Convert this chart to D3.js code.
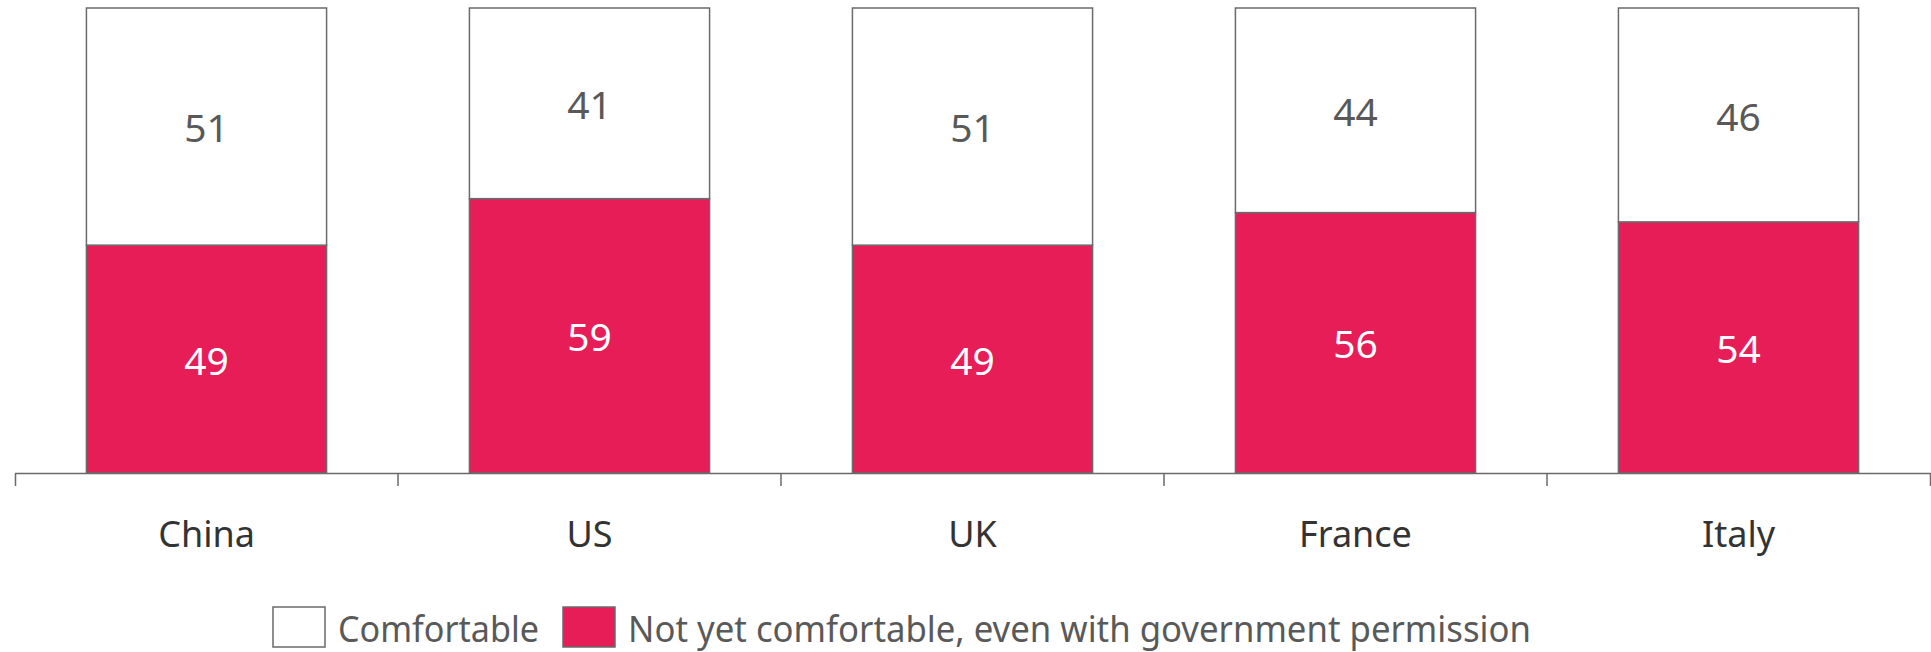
<!DOCTYPE html>
<html>
<head>
<meta charset="utf-8">
<script src="https://cdn.jsdelivr.net/npm/d3@7"></script>
<style>
  body { margin: 0; background: #fff; }
  svg { display: block; font-family: "Noto Sans", sans-serif; }
</style>
</head>
<body>
<div id="chart"></div>
<script>
const countries = ["China", "US", "UK", "France", "Italy"];
const notComfortable = [49, 59, 49, 56, 54];
const comfortable = [51, 41, 51, 44, 46];
const legendLabels = ["Comfortable", "Not yet comfortable, even with government permission"];

const W = 1931, H = 652;
const red = "#e71d58", edge = "#6a6a6a";
const svg = d3.select("#chart").append("svg").attr("width", W).attr("height", H);

const x = d3.scaleBand().domain(countries).range([15, 1930]).paddingInner(0.373).paddingOuter(0.1865);
const y = d3.scaleLinear().domain([0, 100]).range([473, 8]);

const rows = countries.map((c, i) => ({ c, a: notComfortable[i], b: comfortable[i] }));

// bars: red part at bottom, white on top
const g = svg.append("g");
g.selectAll("rect.no").data(rows).join("rect")
  .attr("x", d => x(d.c)).attr("width", x.bandwidth())
  .attr("y", d => y(d.a)).attr("height", d => y(0) - y(d.a))
  .attr("fill", red).attr("stroke", edge).attr("stroke-width", 1.5);
g.selectAll("rect.yes").data(rows).join("rect")
  .attr("x", d => x(d.c)).attr("width", x.bandwidth())
  .attr("y", d => y(d.a + d.b)).attr("height", d => y(d.a) - y(d.a + d.b))
  .attr("fill", "#fff").attr("stroke", edge).attr("stroke-width", 1.5);

// value labels
g.selectAll("text.no").data(rows).join("text")
  .attr("x", d => x(d.c) + x.bandwidth() / 2)
  .attr("y", d => y(d.a / 2)).attr("dy", "0.4em")
  .attr("text-anchor", "middle").attr("font-size", 39).attr("fill", "#fff")
  .text(d => d.a);
g.selectAll("text.yes").data(rows).join("text")
  .attr("x", d => x(d.c) + x.bandwidth() / 2)
  .attr("y", d => y(d.a + d.b / 2)).attr("dy", "0.4em")
  .attr("text-anchor", "middle").attr("font-size", 39).attr("fill", "#595959")
  .text(d => d.b);

// category axis
const axis = svg.append("g").attr("transform", `translate(0,${y(0)})`)
  .call(d3.axisBottom(x).tickSizeInner(0).tickSizeOuter(13).tickPadding(0));
axis.select(".domain").attr("stroke", edge).attr("stroke-width", 1.5);
axis.selectAll("text").attr("font-size", 36).attr("fill", "#333")
  .attr("font-family", "Noto Sans, sans-serif").attr("y", 48);
const step = x.step();
axis.selectAll("line.sep").data(countries.slice(1)).join("line")
  .attr("x1", d => x(d) - step * x.paddingInner() / 2)
  .attr("x2", d => x(d) - step * x.paddingInner() / 2)
  .attr("y1", 0).attr("y2", 13).attr("stroke", edge).attr("stroke-width", 1.5);

// legend (reference font is narrow, so squeeze to its width)
const leg = svg.append("g");
const items = [
  { label: legendLabels[0], fill: "#fff", bx: 273, tx: 338, len: 201 },
  { label: legendLabels[1], fill: red, bx: 563, tx: 628, len: 903 }
];
items.forEach(it => {
  leg.append("rect").attr("x", it.bx).attr("y", 607).attr("width", 52).attr("height", 40)
    .attr("fill", it.fill).attr("stroke", edge).attr("stroke-width", 1.5);
  leg.append("text").attr("x", it.tx).attr("y", 642)
    .attr("font-size", 37).attr("fill", "#595959")
    .attr("textLength", it.len).attr("lengthAdjust", "spacingAndGlyphs")
    .text(it.label);
});
</script>
</body>
</html>
